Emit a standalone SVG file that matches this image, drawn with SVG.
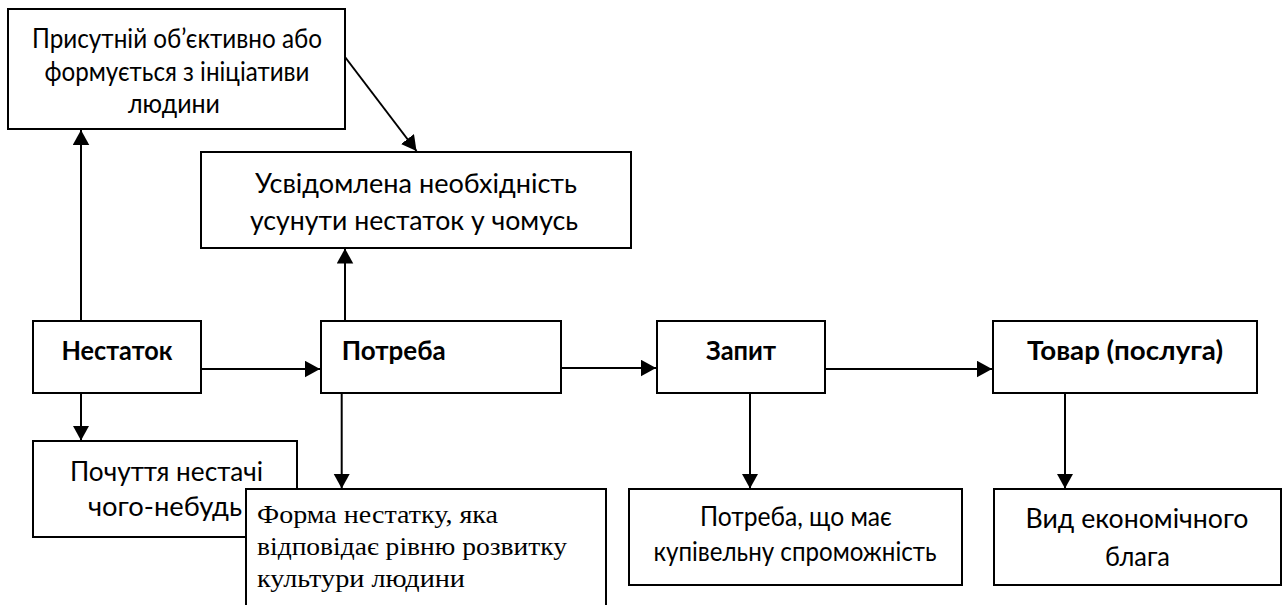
<svg xmlns="http://www.w3.org/2000/svg" width="1284" height="605" viewBox="0 0 1284 605">
<style>
.box{fill:#fff;stroke:#000;stroke-width:2}
.t{font-family:Lato,"Open Sans","Noto Sans",sans-serif;font-size:26px;fill:#000}
.c{text-anchor:middle}
.b{font-weight:700}
.s{font-family:"Liberation Serif","Times New Roman",serif;font-size:26px;fill:#000}
.ln{stroke:#000;stroke-width:2;fill:none;marker-end:url(#ah)}
</style>
<defs>
<marker id="ah" markerUnits="userSpaceOnUse" markerWidth="16" markerHeight="17" refX="15" refY="8.25" orient="auto">
<path d="M0,0 L15,8.25 L0,16.5 Z" fill="#000"/>
</marker>
</defs>
<rect width="1284" height="605" fill="#fff"/>
<g id="connectors">
<line class="ln" x1="81" y1="321" x2="81" y2="130"/>
<line class="ln" x1="345" y1="57" x2="416.5" y2="151"/>
<line class="ln" x1="345" y1="321" x2="345" y2="248.5"/>
<line class="ln" x1="201" y1="369" x2="320" y2="369"/>
<line class="ln" x1="561" y1="368" x2="656" y2="368"/>
<line class="ln" x1="825" y1="369" x2="992" y2="369"/>
<line class="ln" x1="81" y1="393" x2="81" y2="440.5"/>
<line class="ln" x1="341.7" y1="393" x2="341.7" y2="488.5"/>
<line class="ln" x1="750" y1="393" x2="750" y2="488.5"/>
<line class="ln" x1="1065" y1="393" x2="1065" y2="488.5"/>
</g>
<g id="node-prysutnii">
<rect class="box" x="8" y="9" width="337" height="120"/>
<text class="t c" x="177" y="48" textLength="290" lengthAdjust="spacingAndGlyphs">Присутній об’єктивно або</text>
<text class="t c" x="177" y="81" textLength="265" lengthAdjust="spacingAndGlyphs">формується з ініціативи</text>
<text class="t c" x="174" y="113" textLength="92" lengthAdjust="spacingAndGlyphs">людини</text>
</g>
<g id="node-usvidomlena">
<rect class="box" x="201" y="152" width="430" height="96"/>
<text class="t c" x="416" y="193" textLength="322" lengthAdjust="spacingAndGlyphs">Усвідомлена необхідність</text>
<text class="t c" x="414" y="230" textLength="328" lengthAdjust="spacingAndGlyphs">усунути нестаток у чомусь</text>
</g>
<g id="node-nestatok">
<rect class="box" x="33" y="321" width="168" height="72"/>
<text class="t c b" x="117" y="360" textLength="111" lengthAdjust="spacingAndGlyphs">Нестаток</text>
</g>
<g id="node-potreba">
<rect class="box" x="321" y="321" width="240" height="72"/>
<text class="t b" x="341.7" y="360" textLength="104" lengthAdjust="spacingAndGlyphs">Потреба</text>
</g>
<g id="node-zapyt">
<rect class="box" x="657" y="321" width="168" height="72"/>
<text class="t c b" x="741" y="360" textLength="70" lengthAdjust="spacingAndGlyphs">Запит</text>
</g>
<g id="node-tovar">
<rect class="box" x="993" y="321" width="264" height="72"/>
<text class="t c b" x="1125" y="360" textLength="196" lengthAdjust="spacingAndGlyphs">Товар (послуга)</text>
</g>
<g id="node-pochuttia">
<rect class="box" x="33" y="441" width="264" height="96"/>
<text class="t c" x="166.5" y="481" textLength="193" lengthAdjust="spacingAndGlyphs">Почуття нестачі</text>
<text class="t c" x="165" y="516" textLength="154" lengthAdjust="spacingAndGlyphs">чого-небудь</text>
</g>
<g id="node-forma">
<rect class="box" x="246" y="489" width="360" height="130"/>
<text class="s" x="257" y="523" textLength="241" lengthAdjust="spacingAndGlyphs">Форма нестатку, яка</text>
<text class="s" x="257" y="555" textLength="310" lengthAdjust="spacingAndGlyphs">відповідає рівню розвитку</text>
<text class="s" x="257" y="587" textLength="208" lengthAdjust="spacingAndGlyphs">культури людини</text>
</g>
<g id="node-potreba-scho-maie">
<rect class="box" x="629" y="489" width="333" height="96"/>
<text class="t c" x="796" y="526" textLength="192" lengthAdjust="spacingAndGlyphs">Потреба, що має</text>
<text class="t c" x="795" y="561" textLength="283" lengthAdjust="spacingAndGlyphs">купівельну спроможність</text>
</g>
<g id="node-vyd">
<rect class="box" x="994" y="489" width="287" height="96"/>
<text class="t c" x="1137" y="528" textLength="223" lengthAdjust="spacingAndGlyphs">Вид економічного</text>
<text class="t c" x="1137.5" y="566" textLength="65" lengthAdjust="spacingAndGlyphs">блага</text>
</g>
</svg>
